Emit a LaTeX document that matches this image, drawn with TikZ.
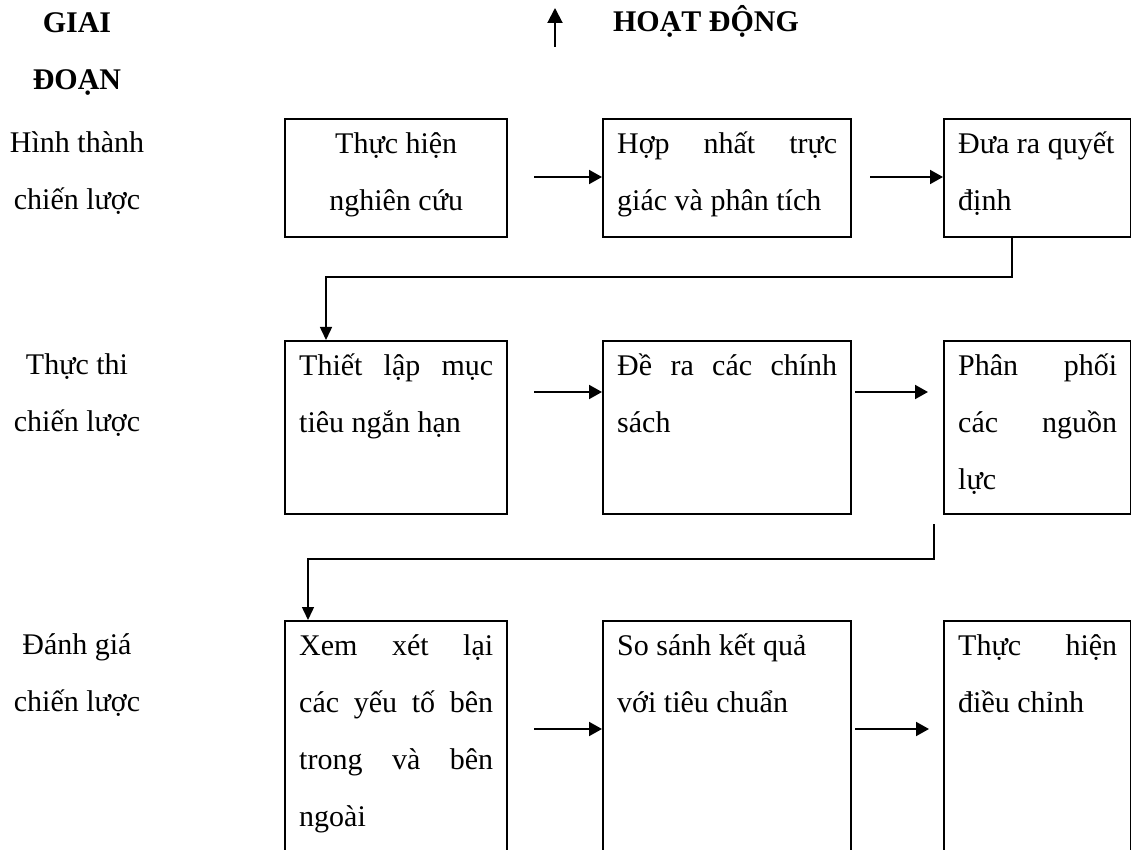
\documentclass[tikz,border=0pt]{standalone}
\usepackage{fontspec}
\setmainfont{Liberation Serif}
\usetikzlibrary{arrows.meta,calc}

% text of a box: height, width, lines
\newcommand{\boxtext}[3]{\parbox[c][#1][t]{#2}{\fontsize{15pt}{28.5pt}\selectfont\rule{0pt}{17pt}#3}}
% text of a phase in the left column
\newcommand{\phasetext}[1]{\parbox[t]{80pt}{\centering\fontsize{15pt}{28.5pt}\selectfont\rule{0pt}{17pt}#1}}

\begin{document}
\begin{tikzpicture}[x=0.5pt,y=0.5pt,yscale=-1,
	stage/.style={draw, line width=1.2pt, anchor=north west, inner xsep=7pt, inner ysep=0pt},
	phase/.style={anchor=north, inner sep=0pt},
	flow/.style={line width=1pt, -{Triangle[length=6.5pt,width=7pt]}},
	link/.style={line width=0.75pt, -{Triangle[length=6.5pt,width=6pt]}}]
	\clip (0,0) rectangle (1131,850);

	% Headings
	\node [phase] (giai) at (77,-2) {\phasetext{\textbf{GIAI}\\ \textbf{ĐOẠN}}};
	\node [anchor=base, inner sep=0pt, font=\fontsize{15pt}{18pt}\selectfont\bfseries] (hoatdong) at (706,32) {HOẠT ĐỘNG};
	\coordinate (up0) at (555,47);
	\coordinate (up1) at (555,8);
	\draw [flow, -{Triangle[length=7.5pt,width=7.5pt]}] (up0) -- (up1);

	% Phases
	\node [phase] (hinhthanh) at (77,118) {\phasetext{Hình thành\\ chiến lược}};
	\node [phase] (thucthi) at (77,340) {\phasetext{Thực thi\\ chiến lược}};
	\node [phase] (danhgia) at (77,620) {\phasetext{Đánh giá\\ chiến lược}};

	% Row 1
	\node [stage] (r1a) at (284,118) {\boxtext{59pt}{97pt}{\centering Thực hiện\\ nghiên cứu}};
	\node [stage] (r1b) at (602,118) {\boxtext{59pt}{110pt}{Hợp\hfill nhất\hfill trực\\ giác và phân tích}};
	\node [stage] (r1c) at (943,118) {\boxtext{59pt}{79.5pt}{Đưa ra quyết\\ định}};
	% Row 2
	\node [stage] (r2a) at (284,340) {\boxtext{86.5pt}{97pt}{Thiết\hfill lập\hfill mục\\ tiêu ngắn hạn}};
	\node [stage] (r2b) at (602,340) {\boxtext{86.5pt}{110pt}{Đề\hfill ra\hfill các\hfill chính\\ sách}};
	\node [stage] (r2c) at (943,340) {\boxtext{86.5pt}{79.5pt}{Phân\hfill phối\\ các\hfill nguồn\\ lực}};
	% Row 3
	\node [stage] (r3a) at (284,620) {\boxtext{150pt}{97pt}{Xem\hfill xét\hfill lại\\ các\hfill yếu\hfill tố\hfill bên\\ trong\hfill và\hfill bên\\ ngoài}};
	\node [stage] (r3b) at (602,620) {\boxtext{150pt}{110pt}{So sánh kết quả\\ với tiêu chuẩn}};
	\node [stage] (r3c) at (943,620) {\boxtext{150pt}{79.5pt}{Thực\hfill hiện\\ điều chỉnh}};

	% Arrows inside the rows
	\coordinate (a11) at ($(r1a.north east)+(26,59)$);
	\coordinate (a12) at ($(r1b.north east)+(18,59)$);
	\draw [flow] (a11) -- (a11 -| r1b.west);
	\draw [flow] (a12) -- (a12 -| r1c.west);
	\coordinate (a21) at ($(r2a.north east)+(26,52)$);
	\coordinate (a22) at ($(r2b.north east)+(3,52)$);
	\draw [flow] (a21) -- (a21 -| r2b.west);
	\draw [flow] (a22) -- ($(a22 -| r2c.west)+(-15,0)$);
	\coordinate (a31) at ($(r3a.north east)+(26,109)$);
	\coordinate (a32) at ($(r3b.north east)+(3,109)$);
	\draw [flow] (a31) -- (a31 -| r3b.west);
	\draw [flow] (a32) -- ($(a32 -| r3c.west)+(-14,0)$);

	% Row 1 to row 2
	\draw [link] ($(r1c.south west)+(69,0)$) |- ($(r2a.north west)+(42,-63)$) -- ($(r2a.north west)+(42,0)$);
	% Row 2 to row 3
	\draw [link] ($(r2c.south west)+(-9,9)$) |- ($(r3a.north west)+(24,-61)$) -- ($(r3a.north west)+(24,0)$);
\end{tikzpicture}
\end{document}
